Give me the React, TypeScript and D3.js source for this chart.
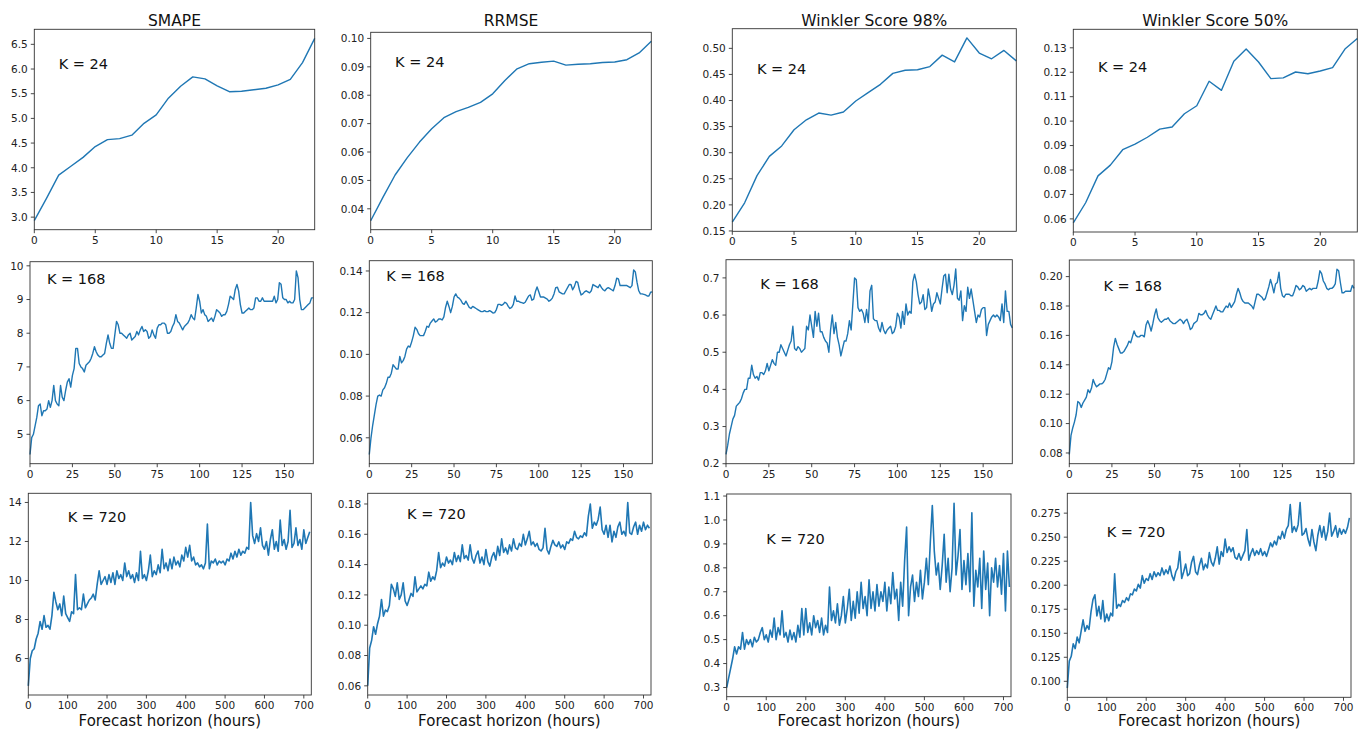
import React from "react";
import * as d3 from "d3";

// ---- data ----
const metrics = ["SMAPE", "RRMSE", "Winkler Score 98%", "Winkler Score 50%"];
const horizons = [24, 168, 720];
const step720 = 5; // K = 720 series sampled every 5 hours

const smape24 = [2.93, 3.38, 3.85, 4.03, 4.21, 4.43, 4.57, 4.59, 4.66, 4.9, 5.07, 5.41, 5.65, 5.84, 5.8, 5.66, 5.54, 5.55, 5.58, 5.61, 5.68, 5.79, 6.13, 6.62];
const rrmse24 = [0.0358, 0.044, 0.0519, 0.058, 0.0635, 0.0682, 0.0721, 0.0742, 0.0757, 0.0775, 0.0805, 0.0852, 0.0893, 0.0911, 0.0916, 0.092, 0.0906, 0.0909, 0.0911, 0.0915, 0.0917, 0.0925, 0.0949, 0.099];
const wink98_24 = [0.167, 0.204, 0.256, 0.293, 0.313, 0.344, 0.363, 0.376, 0.372, 0.378, 0.399, 0.415, 0.431, 0.452, 0.458, 0.459, 0.465, 0.487, 0.474, 0.52, 0.491, 0.48, 0.496, 0.476];
const wink50_24 = [0.0584, 0.0666, 0.0776, 0.082, 0.0883, 0.0906, 0.0934, 0.0967, 0.0976, 0.103, 0.1063, 0.1163, 0.1126, 0.1245, 0.1295, 0.1242, 0.1174, 0.1177, 0.1201, 0.1194, 0.1205, 0.1219, 0.1295, 0.1338];

const smape168 = [
  4.4, 4.9, 5.0, 5.25, 5.5, 5.85, 5.9, 5.55, 5.7, 5.7,
  5.75, 6.0, 5.8, 6.0, 6.45, 6.0, 5.9, 5.85, 6.45, 6.1,
  6.0, 6.3, 6.55, 6.65, 6.4, 6.75, 6.95, 7.55, 7.55, 7.1,
  7.0, 6.95, 6.85, 7.05, 7.1, 7.15, 7.25, 7.4, 7.6, 7.45,
  7.35, 7.3, 7.3, 7.35, 7.4, 7.7, 7.95, 7.7, 7.55, 7.55,
  7.95, 8.35, 8.25, 8.0, 8.0, 7.95, 7.9, 7.85, 7.95, 8.0,
  7.8, 7.85, 7.9, 8.05, 7.95, 8.1, 8.2, 8.05, 8.1, 8.05,
  7.85, 7.9, 8.1, 7.95, 7.85, 8.15, 8.25, 8.25, 8.3, 8.3,
  8.25, 8.0, 8.0, 8.05, 8.2, 8.3, 8.55, 8.35, 8.3, 8.2,
  8.1, 8.2, 8.25, 8.3, 8.4, 8.55, 8.45, 8.4, 8.75, 9.15,
  8.95, 8.6, 8.7, 8.55, 8.5, 8.35, 8.4, 8.45, 8.35, 8.5,
  8.7, 8.65, 8.6, 8.5, 8.55, 8.55, 8.65, 8.85, 9.1, 9.05,
  9.0, 9.3, 9.45, 9.25, 8.85, 8.6, 8.6, 8.65, 8.7, 8.75,
  8.7, 8.7, 8.75, 9.05, 9.05, 8.95, 8.95, 9.05, 8.95, 8.95,
  8.95, 8.95, 8.95, 8.95, 9.1, 8.9, 9.0, 9.5, 9.45, 9.05,
  9.0, 9.0, 8.9, 8.95, 8.9, 8.9, 9.0, 9.85, 9.65, 9.0,
  8.7, 8.7, 8.75, 8.8, 8.85, 8.9, 9.05, 9.05,
];
const rrmse168 = [
  0.052, 0.06, 0.066, 0.071, 0.076, 0.08, 0.0805, 0.08, 0.083, 0.084,
  0.086, 0.089, 0.089, 0.091, 0.095, 0.094, 0.093, 0.093, 0.099, 0.096,
  0.097, 0.099, 0.1025, 0.104, 0.1035, 0.106, 0.109, 0.113, 0.112, 0.11,
  0.109, 0.109, 0.109, 0.111, 0.1135, 0.113, 0.115, 0.116, 0.117, 0.1155,
  0.116, 0.117, 0.117, 0.1165, 0.118, 0.1225, 0.1255, 0.123, 0.12, 0.123,
  0.1275, 0.129, 0.1275, 0.127, 0.126, 0.1245, 0.124, 0.1255, 0.124, 0.1225,
  0.122, 0.123, 0.1225, 0.122, 0.1215, 0.121, 0.1205, 0.1205, 0.121, 0.1205,
  0.1205, 0.121, 0.1205, 0.1198, 0.12, 0.1215, 0.124, 0.124, 0.1235, 0.124,
  0.125, 0.1245, 0.123, 0.122, 0.1225, 0.124, 0.128, 0.1255, 0.1255, 0.125,
  0.1248, 0.1245, 0.125, 0.1265, 0.128, 0.1285, 0.126, 0.1265, 0.13, 0.1323,
  0.13, 0.1275, 0.1275, 0.1275, 0.127, 0.1265, 0.1255, 0.126, 0.127, 0.129,
  0.132, 0.1322, 0.13, 0.1295, 0.129, 0.129, 0.1305, 0.132, 0.1335, 0.1335,
  0.131, 0.1325, 0.135, 0.1345, 0.131, 0.1285, 0.129, 0.13, 0.1305, 0.13,
  0.1295, 0.1305, 0.1335, 0.133, 0.1325, 0.132, 0.1335, 0.132, 0.131, 0.1305,
  0.1315, 0.132, 0.1315, 0.131, 0.1305, 0.133, 0.1365, 0.1362, 0.133, 0.133,
  0.133, 0.133, 0.133, 0.1325, 0.132, 0.133, 0.1405, 0.1395, 0.1345, 0.1305,
  0.129, 0.129, 0.1288, 0.1285, 0.128, 0.128, 0.1298, 0.13,
];
const wink98_168 = [
  0.225, 0.25, 0.28, 0.3, 0.32, 0.33, 0.355, 0.36, 0.365, 0.375,
  0.39, 0.4, 0.4, 0.43, 0.43, 0.465, 0.44, 0.43, 0.435, 0.425,
  0.445, 0.445, 0.44, 0.45, 0.47, 0.45, 0.465, 0.48, 0.47, 0.465,
  0.5, 0.5, 0.52, 0.51, 0.5, 0.49, 0.505, 0.52, 0.53, 0.57,
  0.51, 0.505, 0.515, 0.51, 0.5, 0.505, 0.51, 0.57, 0.56, 0.6,
  0.57, 0.54, 0.61, 0.57, 0.605, 0.555, 0.555, 0.54, 0.53, 0.525,
  0.5, 0.56, 0.6, 0.55, 0.58, 0.54, 0.52, 0.49, 0.51, 0.53,
  0.53, 0.55, 0.585, 0.56, 0.63, 0.7, 0.695, 0.62, 0.61, 0.615,
  0.605, 0.58, 0.615, 0.58, 0.665, 0.68, 0.59, 0.585, 0.585, 0.565,
  0.555, 0.58, 0.56, 0.55, 0.56, 0.565, 0.57, 0.55, 0.555, 0.57,
  0.605, 0.595, 0.565, 0.61, 0.575, 0.63, 0.6, 0.61, 0.605, 0.69,
  0.71, 0.69, 0.655, 0.63, 0.635, 0.655, 0.615, 0.62, 0.67, 0.645,
  0.61, 0.63, 0.635, 0.66, 0.645, 0.63, 0.67, 0.705, 0.71, 0.66,
  0.71, 0.67, 0.655, 0.68, 0.724, 0.645, 0.64, 0.665, 0.585, 0.625,
  0.61, 0.675, 0.645, 0.67, 0.64, 0.61, 0.58, 0.6, 0.595, 0.615,
  0.62, 0.62, 0.545, 0.575, 0.585, 0.595, 0.6, 0.595, 0.6, 0.595,
  0.585, 0.63, 0.58, 0.665, 0.61, 0.61, 0.575, 0.565,
];
const wink50_168 = [
  0.079, 0.092, 0.097, 0.101, 0.106, 0.115, 0.114, 0.111, 0.114, 0.116,
  0.118, 0.123, 0.121, 0.124, 0.13, 0.127, 0.125, 0.126, 0.127, 0.127,
  0.128, 0.13, 0.134, 0.138, 0.137, 0.142, 0.152, 0.158, 0.154, 0.151,
  0.148, 0.148, 0.149, 0.151, 0.153, 0.156, 0.155, 0.159, 0.163, 0.16,
  0.159, 0.159, 0.16, 0.16, 0.159, 0.167, 0.17, 0.167, 0.163, 0.168,
  0.174, 0.178, 0.172, 0.17, 0.169, 0.17, 0.171, 0.171, 0.172, 0.17,
  0.169, 0.168, 0.168, 0.169, 0.17, 0.171, 0.17, 0.168, 0.17, 0.171,
  0.168, 0.164, 0.165, 0.168, 0.169, 0.17, 0.175, 0.174, 0.174, 0.175,
  0.177, 0.174, 0.172, 0.171, 0.174, 0.177, 0.18, 0.177, 0.177, 0.176,
  0.176, 0.178, 0.18, 0.179, 0.182, 0.179, 0.181, 0.183, 0.188, 0.192,
  0.189, 0.185, 0.183, 0.182, 0.182, 0.182, 0.181, 0.18, 0.178, 0.183,
  0.188, 0.188, 0.187, 0.186, 0.184, 0.185, 0.189, 0.193, 0.198, 0.194,
  0.189, 0.195, 0.196, 0.203, 0.192, 0.187, 0.186, 0.188, 0.188, 0.188,
  0.187, 0.187, 0.19, 0.194, 0.193, 0.191, 0.192, 0.194, 0.193, 0.19,
  0.191, 0.192, 0.191, 0.192, 0.192, 0.192, 0.197, 0.204, 0.202, 0.197,
  0.195, 0.192, 0.191, 0.192, 0.192, 0.193, 0.195, 0.205, 0.204, 0.196,
  0.189, 0.189, 0.19, 0.19, 0.19, 0.19, 0.194, 0.192,
];

const smape720 = [
  4.6, 6.0, 6.4, 6.5, 7.0, 7.3, 7.9, 7.5, 8.2, 7.6, 7.7, 7.5,
  8.2, 9.4, 8.9, 8.5, 8.8, 8.2, 9.2, 8.3, 8.1, 7.9, 8.4, 8.3,
  10.3, 8.5, 8.6, 8.5, 9.3, 8.6, 8.8, 9.0, 9.1, 9.3, 9.0, 9.8,
  10.5, 9.8, 10.0, 10.2, 9.8, 10.3, 9.9, 10.4, 9.8, 10.5, 10.1, 10.3,
  10.0, 10.9, 10.2, 10.5, 10.1, 10.3, 9.9, 10.4, 10.0, 11.5, 10.1, 10.3,
  10.0, 10.5, 11.3, 10.2, 10.5, 10.3, 10.8, 10.4, 11.6, 10.6, 10.9, 10.5,
  11.1, 10.6, 11.2, 10.8, 11.0, 10.7, 11.3, 11.0, 11.7, 11.2, 11.8, 11.0,
  11.2, 10.8, 10.9, 10.7, 10.8, 10.6, 10.9, 12.9, 10.6, 11.0, 10.9, 11.1,
  10.8, 11.0, 10.9, 11.0, 10.8, 11.1, 11.0, 11.4, 11.1, 11.5, 11.2, 11.6,
  11.3, 11.5, 11.4, 11.7, 11.6, 14.0, 12.3, 11.9, 12.4, 12.0, 12.7, 11.8,
  11.6, 12.0, 11.3, 12.1, 12.6, 11.6, 12.0, 11.5, 13.1, 11.8, 12.1, 11.6,
  12.0, 13.6, 11.7, 11.9, 12.7, 11.8, 12.1, 11.6, 12.6, 11.9, 12.2, 12.5,
];
const rrmse720 = [
  0.06, 0.085, 0.09, 0.099, 0.094, 0.101, 0.106, 0.117, 0.106, 0.11, 0.109, 0.113,
  0.127, 0.124, 0.119, 0.128, 0.117, 0.12, 0.128, 0.116, 0.113, 0.117, 0.121, 0.119,
  0.132, 0.122, 0.124, 0.126, 0.124, 0.127, 0.126, 0.135, 0.129, 0.132, 0.13, 0.136,
  0.148, 0.138, 0.141, 0.139, 0.145, 0.141, 0.143, 0.14, 0.148, 0.142, 0.146, 0.142,
  0.153, 0.144, 0.146, 0.143, 0.153, 0.144, 0.141, 0.146, 0.149, 0.141, 0.145, 0.14,
  0.15, 0.142, 0.139, 0.145, 0.148, 0.143, 0.152, 0.146, 0.157, 0.148, 0.151, 0.147,
  0.153, 0.149, 0.157, 0.151, 0.15, 0.154, 0.152, 0.16, 0.153, 0.157, 0.162, 0.153,
  0.155, 0.152, 0.154, 0.15, 0.149, 0.151, 0.164, 0.15, 0.147, 0.152, 0.156, 0.153,
  0.152, 0.155, 0.151, 0.153, 0.15, 0.155, 0.154, 0.157, 0.156, 0.162, 0.158, 0.157,
  0.159, 0.158, 0.161, 0.159, 0.172, 0.18, 0.164, 0.168, 0.166, 0.17, 0.178, 0.163,
  0.16, 0.166, 0.158, 0.166, 0.155, 0.162, 0.158, 0.165, 0.168, 0.16, 0.162, 0.159,
  0.181, 0.161, 0.16, 0.165, 0.168, 0.16, 0.166, 0.162, 0.168, 0.163, 0.166, 0.164,
];
const wink98_720 = [
  0.3, 0.34, 0.38, 0.42, 0.47, 0.44, 0.47, 0.46, 0.53, 0.46, 0.5, 0.48,
  0.5, 0.47, 0.51, 0.49, 0.5, 0.53, 0.55, 0.5, 0.52, 0.49, 0.54, 0.51,
  0.59, 0.5, 0.55, 0.52, 0.62, 0.51, 0.53, 0.49, 0.54, 0.5, 0.53, 0.49,
  0.56, 0.51, 0.63, 0.52, 0.63, 0.53, 0.57, 0.52, 0.6, 0.55, 0.58, 0.53,
  0.59, 0.52, 0.56, 0.53, 0.72, 0.58, 0.62, 0.57, 0.65, 0.56, 0.6, 0.68,
  0.57, 0.63, 0.71, 0.58, 0.66, 0.59, 0.7, 0.61, 0.74, 0.63, 0.68, 0.6,
  0.75, 0.63, 0.7, 0.62, 0.73, 0.64, 0.7, 0.66, 0.74, 0.62, 0.72, 0.65,
  0.78, 0.67, 0.71, 0.58, 0.74, 0.64, 0.83, 0.97, 0.6, 0.72, 0.77, 0.66,
  0.74, 0.68, 0.79, 0.67, 0.74, 0.84, 0.73, 0.91, 1.06, 0.87, 0.77, 0.82,
  0.71, 0.81, 0.94, 0.74, 0.84, 0.7, 0.8, 1.07, 0.77, 0.85, 0.96, 0.71,
  0.83, 0.73, 0.86, 0.7, 1.03, 0.64, 0.79, 0.72, 0.84, 0.63, 0.87, 0.71,
  0.82, 0.6, 0.8, 0.74, 0.84, 0.72, 0.81, 0.69, 0.86, 0.62, 0.87, 0.72,
];
const wink50_720 = [
  0.093, 0.121, 0.126, 0.139, 0.134, 0.146, 0.14, 0.152, 0.164, 0.152, 0.158, 0.154,
  0.172, 0.185, 0.19, 0.168, 0.178, 0.165, 0.184, 0.162, 0.17, 0.163, 0.171, 0.168,
  0.212, 0.176, 0.18, 0.178, 0.184, 0.182, 0.187, 0.184, 0.191, 0.19, 0.196, 0.194,
  0.201, 0.197, 0.21, 0.202, 0.207, 0.205, 0.212, 0.206, 0.214, 0.209, 0.213, 0.21,
  0.218, 0.211, 0.216, 0.212, 0.22, 0.21, 0.205, 0.214, 0.218, 0.235, 0.207, 0.214,
  0.222, 0.21, 0.212, 0.224, 0.23, 0.214, 0.211, 0.221, 0.228, 0.216, 0.222, 0.218,
  0.234, 0.224, 0.22, 0.228, 0.24, 0.222, 0.235, 0.23, 0.248, 0.234, 0.24, 0.235,
  0.239, 0.229, 0.227, 0.233, 0.226, 0.231, 0.236, 0.258, 0.226, 0.233, 0.238, 0.231,
  0.236, 0.232, 0.238, 0.231, 0.235, 0.23, 0.237, 0.244, 0.24, 0.246, 0.242, 0.251,
  0.248, 0.256, 0.249, 0.258, 0.262, 0.284, 0.255, 0.261, 0.256, 0.263, 0.286, 0.252,
  0.254, 0.259, 0.248, 0.241, 0.258, 0.245, 0.236, 0.252, 0.262, 0.25, 0.261, 0.247,
  0.256, 0.275, 0.251, 0.256, 0.262, 0.25, 0.259, 0.253, 0.258, 0.254, 0.26, 0.27,
];

const series = [
  [smape24, rrmse24, wink98_24, wink50_24],
  [smape168, rrmse168, wink98_168, wink50_168],
  [smape720, rrmse720, wink98_720, wink50_720],
];
const xSteps = [1, 1, step720];

const xTicks = [
  [0, 5, 10, 15, 20],
  [0, 25, 50, 75, 100, 125, 150],
  [0, 100, 200, 300, 400, 500, 600, 700],
];
const yTicks = [
  [
    [3.0, 3.5, 4.0, 4.5, 5.0, 5.5, 6.0, 6.5],
    [0.04, 0.05, 0.06, 0.07, 0.08, 0.09, 0.1],
    [0.15, 0.2, 0.25, 0.3, 0.35, 0.4, 0.45, 0.5],
    [0.06, 0.07, 0.08, 0.09, 0.1, 0.11, 0.12, 0.13],
  ],
  [
    [5, 6, 7, 8, 9, 10],
    [0.06, 0.08, 0.1, 0.12, 0.14],
    [0.2, 0.3, 0.4, 0.5, 0.6, 0.7],
    [0.08, 0.1, 0.12, 0.14, 0.16, 0.18, 0.2],
  ],
  [
    [6, 8, 10, 12, 14],
    [0.06, 0.08, 0.1, 0.12, 0.14, 0.16, 0.18],
    [0.3, 0.4, 0.5, 0.6, 0.7, 0.8, 0.9, 1.0, 1.1],
    [0.1, 0.125, 0.15, 0.175, 0.2, 0.225, 0.25, 0.275],
  ],
];
const yDecimals = [
  [1, 2, 2, 2],
  [0, 2, 1, 2],
  [0, 2, 1, 3],
];
// "K = ..." label anchors, in data coordinates
const kLabelAt = [
  [[2, 6.0], [2, 0.09], [2, 0.45], [2, 0.12]],
  [[10, 9.47], [10, 0.135], [20, 0.67], [20, 0.19]],
  [[100, 13], [100, 0.17], [100, 0.9], [100, 0.25]],
];

// ---- layout: [left, top, right, bottom] of each axes box ----
const boxes = [
  [[34.3, 29.3, 314.7, 229.7], [370.7, 32.3, 651.3, 229.7], [732.3, 28.7, 1016.3, 231.3], [1073.3, 29.3, 1357.3, 232]],
  [[30, 261.7, 313.3, 463.7], [369.3, 260.7, 652.3, 463.7], [726, 259.7, 1012.3, 463.7], [1069.3, 260, 1354, 463.7]],
  [[28.3, 493.3, 311.3, 695], [367.7, 493.3, 651, 695], [726.7, 494, 1011, 696.7], [1067.3, 493.3, 1351, 697.3]],
];

const FONT = "DejaVu Sans, Liberation Sans, sans-serif";
const LINE = "#1f77b4";
const TICK = 3.5;

function Panel({ row, col }: { row: number; col: number }) {
  const [left, top, right, bottom] = boxes[row][col];
  const values = series[row][col];
  const step = xSteps[row];
  const xMax = horizons[row] - 1;

  const x = d3.scaleLinear().domain([0, xMax]).range([left, right]);
  const [lo, hi] = d3.extent(values) as [number, number];
  const pad = (hi - lo) * 0.05;
  const y = d3.scaleLinear().domain([lo - pad, hi + pad]).range([bottom, top]);

  const line = d3
    .line<number>()
    .x((_, i) => x(i * step))
    .y((d) => y(d));

  const fmt = d3.format(`.${yDecimals[row][col]}f`);
  const [kx, ky] = kLabelAt[row][col];

  return (
    <g>
      <path
        d={line(values) || ""}
        fill="none"
        stroke={LINE}
        strokeWidth={row === 2 ? 1.6 : 1.4}
        strokeLinejoin="round"
      />
      <rect x={left} y={top} width={right - left} height={bottom - top} fill="none" stroke="#333" strokeWidth={0.9} />
      {xTicks[row].map((t) => (
        <g key={"x" + t}>
          <line x1={x(t)} x2={x(t)} y1={bottom} y2={bottom + TICK} stroke="#333" strokeWidth={0.9} />
          <text x={x(t)} y={bottom + 14} textAnchor="middle" fontSize={10.5} fill="#222">
            {t}
          </text>
        </g>
      ))}
      {yTicks[row][col].map((t) => (
        <g key={"y" + t}>
          <line x1={left - TICK} x2={left} y1={y(t)} y2={y(t)} stroke="#333" strokeWidth={0.9} />
          <text x={left - 6.5} y={y(t)} dy="0.36em" textAnchor="end" fontSize={10.5} fill="#222">
            {fmt(t)}
          </text>
        </g>
      ))}
      <text x={x(kx)} y={y(ky)} fontSize={14.5} fill="#111">
        {`K = ${horizons[row]}`}
      </text>
      {row === 0 && (
        <text x={(left + right) / 2} y={25.5} textAnchor="middle" fontSize={15.5} fill="#111">
          {metrics[col]}
        </text>
      )}
      {row === 2 && (
        <text x={(left + right) / 2} y={726} textAnchor="middle" fontSize={15} fill="#111">
          Forecast horizon (hours)
        </text>
      )}
    </g>
  );
}

export default function App() {
  return (
    <div style={{ position: "absolute", left: 0, top: 0 }}>
      <svg width={1364} height={731} style={{ display: "block", background: "#fff", fontFamily: FONT }}>
        {horizons.map((_, row) =>
          metrics.map((__, col) => <Panel key={`${row}-${col}`} row={row} col={col} />)
        )}
      </svg>
    </div>
  );
}
